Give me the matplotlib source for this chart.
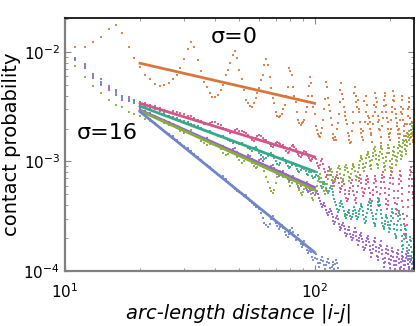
import numpy as np
import matplotlib
matplotlib.use("Agg")
from matplotlib import pyplot as plt
from matplotlib.ticker import LogLocator, NullFormatter

# arc-length distances |i-j|
dist = np.arange(10, 250)

# log10 contact probability
p_sigma0 = [
    -1.93, -1.95, -1.95, -1.91, -1.86, -1.79, -1.75, -1.83, -1.95, -2.05,
    -2.14, -2.21, -2.25, -2.29, -2.31, -2.30, -2.28, -2.25, -2.21, -2.15,
    -2.06, -1.97, -1.91, -1.95, -2.07, -2.17, -2.27, -2.32, -2.37, -2.41,
    -2.41, -2.39, -2.35, -2.30, -2.21, -2.16, -2.10, -2.03, -1.99, -2.05,
    -2.16, -2.25, -2.35, -2.44, -2.47, -2.49, -2.50, -2.47, -2.42, -2.37,
    -2.33, -2.26, -2.21, -2.12, -2.06, -2.12, -2.23, -2.33, -2.42, -2.47,
    -2.55, -2.58, -2.59, -2.58, -2.57, -2.52, -2.48, -2.40, -2.32, -2.15,
    -2.17, -2.21, -2.32, -2.40, -2.46, -2.55, -2.62, -2.65, -2.67, -2.65,
    -2.64, -2.62, -2.55, -2.50, -2.40, -2.31, -2.23, -2.28, -2.40, -2.50,
    -2.57, -2.68, -2.71, -2.75, -2.77, -2.78, -2.74, -2.69, -2.62, -2.52,
    -2.43, -2.27, -2.32, -2.42, -2.48, -2.54, -2.60, -2.67, -2.75, -2.79,
    -2.80, -2.78, -2.80, -2.70, -2.65, -2.57, -2.46, -2.35, -2.28, -2.38,
    -2.43, -2.50, -2.55, -2.58, -2.62, -2.66, -2.74, -2.80, -2.77, -2.83,
    -2.82, -2.72, -2.65, -2.55, -2.37, -2.32, -2.46, -2.40, -2.50, -2.44,
    -2.52, -2.55, -2.64, -2.70, -2.74, -2.78, -2.80, -2.72, -2.45, -2.64,
    -2.40, -2.55, -2.48, -2.58, -2.66, -2.60, -2.70, -2.64, -2.76, -2.74,
    -2.82, -2.66, -2.58, -2.48, -2.55, -2.37, -2.42, -2.50, -2.46, -2.58,
    -2.64, -2.70, -2.62, -2.71, -2.78, -2.83, -2.68, -2.55, -2.60, -2.49,
    -2.44, -2.40, -2.37, -2.55, -2.48, -2.60, -2.64, -2.70, -2.75, -2.78,
    -2.80, -2.74, -2.70, -2.62, -2.55, -2.50, -2.44, -2.36, -2.40, -2.45,
    -2.52, -2.60, -2.57, -2.65, -2.68, -2.71, -2.75, -2.79, -2.70, -2.75,
    -2.62, -2.55, -2.50, -2.44, -2.40, -2.57, -2.52, -2.62, -2.68, -2.72,
    -2.66, -2.77, -2.80, -2.77, -2.74, -2.66, -2.58, -2.52, -2.46, -2.42,
    -2.50, -2.60, -2.66, -2.78, -2.71, -2.64, -2.74, -2.80, -2.82, -2.76,
]

p_pink = [
    -1.98, -2.05, -2.11, -2.20, -2.25, -2.31, -2.35, -2.40, -2.41, -2.44,
    -2.46, -2.47, -2.48, -2.49, -2.51, -2.53, -2.55, -2.54, -2.55, -2.56,
    -2.57, -2.58, -2.58, -2.60, -2.62, -2.63, -2.66, -2.66, -2.65, -2.64,
    -2.64, -2.66, -2.67, -2.69, -2.70, -2.72, -2.74, -2.73, -2.71, -2.70,
    -2.72, -2.72, -2.73, -2.74, -2.76, -2.78, -2.80, -2.81, -2.79, -2.77,
    -2.76, -2.77, -2.79, -2.80, -2.80, -2.82, -2.84, -2.86, -2.87, -2.85,
    -2.83, -2.82, -2.83, -2.84, -2.86, -2.85, -2.87, -2.90, -2.92, -2.91,
    -2.88, -2.86, -2.85, -2.87, -2.89, -2.91, -2.93, -2.95, -2.96, -2.94,
    -2.92, -2.90, -2.91, -2.93, -2.95, -2.97, -2.99, -3.00, -2.98, -2.96,
    -2.97, -2.98, -3.01, -3.04, -3.06, -3.03, -3.00, -2.98, -3.02, -3.07,
    -3.10, -3.14, -3.12, -3.09, -3.05, -3.07, -3.12, -3.17, -3.20, -3.22,
    -3.19, -3.16, -3.14, -3.12, -3.15, -3.20, -3.24, -3.28, -3.25, -3.22,
    -3.18, -3.21, -3.26, -3.30, -3.33, -3.36, -3.34, -3.30, -3.27, -3.24,
    -3.20, -3.17, -3.22, -3.27, -3.31, -3.35, -3.38, -3.33, -3.28, -3.22,
    -3.18, -3.15, -3.12, -3.16, -3.20, -3.24, -3.28, -3.32, -3.29, -3.25,
    -3.21, -3.17, -3.13, -3.16, -3.19, -3.24, -3.29, -3.34, -3.38, -3.41,
    -3.36, -3.31, -3.26, -3.20, -3.16, -3.13, -3.18, -3.23, -3.28, -3.33,
    -3.37, -3.41, -3.36, -3.30, -3.24, -3.19, -3.15, -3.12, -3.10, -3.14,
    -3.19, -3.24, -3.29, -3.34, -3.39, -3.43, -3.40, -3.36, -3.31, -3.25,
    -3.20, -3.15, -3.12, -3.09, -3.06, -3.10, -3.15, -3.21, -3.27, -3.33,
    -3.38, -3.43, -3.48, -3.44, -3.39, -3.33, -3.27, -3.21, -3.16, -3.12,
    -3.09, -3.13, -3.18, -3.24, -3.30, -3.36, -3.42, -3.48, -3.53, -3.57,
    -3.62, -3.67, -3.70, -3.66, -3.58, -3.50, -3.42, -3.35, -3.28, -3.22,
    -3.16, -3.12, -3.08, -3.05, -3.10, -3.16, -3.22, -3.28, -3.33, -3.30,
]

p_teal = [
    -2.00, -2.05, -2.13, -2.22, -2.27, -2.33, -2.36, -2.41, -2.43, -2.45,
    -2.48, -2.50, -2.51, -2.52, -2.54, -2.56, -2.58, -2.59, -2.60, -2.62,
    -2.63, -2.64, -2.66, -2.67, -2.68, -2.69, -2.71, -2.72, -2.72, -2.74,
    -2.75, -2.77, -2.78, -2.77, -2.79, -2.80, -2.81, -2.83, -2.82, -2.83,
    -2.84, -2.83, -2.85, -2.86, -2.88, -2.89, -2.90, -2.88, -2.87, -2.89,
    -2.92, -2.94, -2.96, -2.98, -2.97, -2.95, -2.93, -2.92, -2.94, -2.97,
    -3.00, -3.02, -3.03, -3.01, -2.98, -2.97, -2.99, -3.01, -3.04, -3.06,
    -3.05, -3.03, -3.01, -3.02, -3.04, -3.07, -3.09, -3.10, -3.08, -3.06,
    -3.05, -3.07, -3.09, -3.11, -3.12, -3.10, -3.08, -3.10, -3.13, -3.15,
    -3.14, -3.12, -3.10, -3.13, -3.16, -3.19, -3.22, -3.24, -3.21, -3.19,
    -3.21, -3.24, -3.27, -3.29, -3.27, -3.24, -3.22, -3.25, -3.28, -3.31,
    -3.34, -3.37, -3.40, -3.43, -3.46, -3.44, -3.41, -3.38, -3.36, -3.39,
    -3.42, -3.45, -3.48, -3.50, -3.52, -3.49, -3.46, -3.44, -3.47, -3.50,
    -3.53, -3.51, -3.48, -3.45, -3.42, -3.44, -3.47, -3.50, -3.53, -3.51,
    -3.48, -3.45, -3.43, -3.41, -3.39, -3.42, -3.45, -3.49, -3.53, -3.56,
    -3.54, -3.51, -3.47, -3.43, -3.40, -3.37, -3.35, -3.38, -3.41, -3.44,
    -3.47, -3.50, -3.53, -3.56, -3.59, -3.57, -3.53, -3.48, -3.44, -3.40,
    -3.37, -3.34, -3.36, -3.40, -3.44, -3.48, -3.52, -3.56, -3.59, -3.62,
    -3.60, -3.57, -3.54, -3.51, -3.49, -3.52, -3.55, -3.58, -3.61, -3.64,
    -3.62, -3.58, -3.54, -3.50, -3.46, -3.43, -3.47, -3.52, -3.57, -3.62,
    -3.66, -3.70, -3.68, -3.63, -3.58, -3.54, -3.50, -3.47, -3.45, -3.49,
    -3.53, -3.58, -3.63, -3.68, -3.73, -3.77, -3.80, -3.76, -3.71, -3.66,
    -3.62, -3.59, -3.63, -3.68, -3.74, -3.79, -3.84, -3.89, -3.86, -3.81,
    -3.76, -3.72, -3.69, -3.73, -3.78, -3.83, -3.88, -3.93, -3.97, -3.92,
]

p_purple = [
    -2.00, -2.07, -2.15, -2.24, -2.30, -2.35, -2.39, -2.44, -2.45, -2.47,
    -2.51, -2.54, -2.56, -2.58, -2.61, -2.62, -2.64, -2.66, -2.68, -2.70,
    -2.71, -2.72, -2.74, -2.75, -2.77, -2.78, -2.80, -2.79, -2.81, -2.82,
    -2.84, -2.86, -2.87, -2.86, -2.88, -2.90, -2.91, -2.89, -2.88, -2.91,
    -2.93, -2.95, -2.97, -2.96, -2.94, -2.95, -2.98, -3.00, -3.02, -3.01,
    -2.99, -2.98, -3.00, -3.03, -3.05, -3.07, -3.06, -3.04, -3.03, -3.06,
    -3.09, -3.11, -3.13, -3.12, -3.10, -3.09, -3.11, -3.14, -3.16, -3.18,
    -3.17, -3.15, -3.13, -3.15, -3.18, -3.20, -3.22, -3.24, -3.22, -3.20,
    -3.19, -3.21, -3.24, -3.26, -3.28, -3.27, -3.25, -3.23, -3.26, -3.29,
    -3.31, -3.29, -3.27, -3.30, -3.33, -3.36, -3.39, -3.42, -3.40, -3.38,
    -3.41, -3.44, -3.47, -3.49, -3.46, -3.43, -3.45, -3.48, -3.51, -3.54,
    -3.57, -3.55, -3.52, -3.50, -3.53, -3.57, -3.60, -3.63, -3.61, -3.58,
    -3.56, -3.59, -3.62, -3.65, -3.68, -3.66, -3.63, -3.60, -3.63, -3.66,
    -3.69, -3.72, -3.70, -3.67, -3.64, -3.61, -3.64, -3.68, -3.72, -3.76,
    -3.73, -3.70, -3.67, -3.65, -3.68, -3.71, -3.74, -3.78, -3.81, -3.79,
    -3.76, -3.73, -3.70, -3.68, -3.71, -3.74, -3.77, -3.81, -3.84, -3.87,
    -3.84, -3.80, -3.76, -3.73, -3.70, -3.74, -3.78, -3.82, -3.86, -3.90,
    -3.87, -3.83, -3.79, -3.76, -3.73, -3.77, -3.81, -3.85, -3.89, -3.93,
    -3.96, -3.92, -3.88, -3.84, -3.80, -3.77, -3.81, -3.85, -3.89, -3.93,
    -3.97, -3.94, -3.90, -3.86, -3.82, -3.79, -3.83, -3.87, -3.91, -3.95,
    -3.98, -3.95, -3.91, -3.87, -3.84, -3.81, -3.85, -3.89, -3.93, -3.97,
    -3.99, -3.96, -3.92, -3.89, -3.86, -3.83, -3.87, -3.91, -3.95, -3.98,
    -3.95, -3.91, -3.88, -3.85, -3.82, -3.86, -3.90, -3.94, -3.97, -3.99,
    -3.96, -3.92, -3.89, -3.86, -3.90, -3.94, -3.98, -4.02, -4.05, -4.01,
]

p_green = [
    -2.04, -2.13, -2.23, -2.31, -2.37, -2.44, -2.48, -2.50, -2.55, -2.57,
    -2.58, -2.61, -2.63, -2.60, -2.62, -2.65, -2.67, -2.66, -2.69, -2.72,
    -2.74, -2.73, -2.71, -2.75, -2.78, -2.81, -2.83, -2.85, -2.84, -2.82,
    -2.83, -2.86, -2.89, -2.92, -2.94, -2.93, -2.91, -2.90, -2.93, -2.96,
    -2.99, -3.01, -3.00, -2.97, -2.96, -2.98, -3.01, -3.04, -3.06, -3.05,
    -3.03, -3.02, -3.05, -3.09, -3.14, -3.19, -3.24, -3.27, -3.29, -3.26,
    -3.20, -3.14, -3.10, -3.09, -3.12, -3.14, -3.13, -3.11, -3.15, -3.19,
    -3.22, -3.20, -3.17, -3.15, -3.18, -3.21, -3.23, -3.26, -3.29, -3.31,
    -3.28, -3.25, -3.22, -3.19, -3.21, -3.24, -3.27, -3.30, -3.33, -3.35,
    -3.31, -3.27, -3.22, -3.18, -3.14, -3.11, -3.15, -3.19, -3.23, -3.27,
    -3.30, -3.26, -3.21, -3.16, -3.12, -3.09, -3.07, -3.10, -3.14, -3.18,
    -3.22, -3.18, -3.14, -3.10, -3.06, -3.04, -3.07, -3.11, -3.15, -3.19,
    -3.16, -3.12, -3.08, -3.05, -3.03, -3.06, -3.10, -3.14, -3.18, -3.15,
    -3.11, -3.07, -3.04, -3.02, -3.05, -3.09, -3.13, -3.17, -3.14, -3.10,
    -3.06, -3.03, -3.00, -2.97, -2.95, -2.98, -3.02, -3.06, -3.09, -3.05,
    -3.01, -2.97, -2.94, -2.91, -2.93, -2.96, -3.00, -3.04, -3.07, -3.03,
    -2.99, -2.95, -2.92, -2.89, -2.87, -2.90, -2.94, -2.98, -3.02, -3.06,
    -3.03, -2.99, -2.95, -2.91, -2.88, -2.86, -2.89, -2.93, -2.97, -3.01,
    -3.05, -3.08, -3.04, -3.00, -2.96, -2.92, -2.88, -2.85, -2.88, -2.92,
    -3.00, -3.05, -3.09, -3.06, -3.02, -2.98, -2.94, -2.90, -2.87, -2.91,
    -2.95, -2.99, -3.03, -3.00, -2.96, -2.92, -2.88, -2.85, -2.82, -2.86,
    -2.90, -2.94, -2.98, -2.95, -2.91, -2.87, -2.83, -2.80, -2.77, -2.81,
    -2.85, -2.89, -2.93, -2.90, -2.86, -2.82, -2.78, -2.75, -2.72, -2.76,
    -2.80, -2.84, -2.79, -2.75, -2.71, -2.68, -2.65, -2.69, -2.73, -2.77,
]

# blue series only reaches |i-j| = 127 before dropping off the axis
p_blue = [
    -2.00, -2.06, -2.14, -2.23, -2.28, -2.33, -2.37, -2.42, -2.44, -2.47,
    -2.53, -2.57, -2.61, -2.65, -2.69, -2.72, -2.75, -2.77, -2.80, -2.83,
    -2.86, -2.88, -2.90, -2.93, -2.96, -2.99, -3.01, -3.03, -3.05, -3.08,
    -3.10, -3.12, -3.14, -3.13, -3.16, -3.19, -3.21, -3.23, -3.25, -3.27,
    -3.28, -3.30, -3.32, -3.31, -3.33, -3.36, -3.38, -3.40, -3.42, -3.41,
    -3.43, -3.47, -3.52, -3.56, -3.58, -3.60, -3.57, -3.53, -3.50, -3.53,
    -3.56, -3.59, -3.62, -3.60, -3.58, -3.61, -3.64, -3.67, -3.69, -3.66,
    -3.63, -3.61, -3.64, -3.68, -3.72, -3.70, -3.67, -3.71, -3.75, -3.78,
    -3.76, -3.73, -3.77, -3.81, -3.84, -3.82, -3.79, -3.83, -3.87, -3.90,
    -3.88, -3.85, -3.89, -3.93, -3.96, -3.93, -3.90, -3.87, -3.91, -3.95,
    -3.98, -3.95, -3.92, -3.89, -3.93, -3.97, -4.00, -3.96, -3.92, -3.95,
    -3.98, -3.94, -3.90, -3.93, -3.97, -4.01, -4.05, -4.08,
]

series = [p_sigma0, p_pink, p_teal, p_purple, p_green, p_blue]
colors = ['#d8773c', '#d4558a', '#35a98a', '#9b5cd6', '#84ad3c', '#7285cc']

# power-law fits over 20 <= |i-j| <= 100, probability at both ends
fit_range = [20, 100]
fit_start = [7.9e-3, 3.4e-3, 3.2e-3, 2.95e-3, 2.9e-3, 2.85e-3]
fit_end = [3.4e-3, 1.1e-3, 8.1e-4, 5.8e-4, 5.5e-4, 1.48e-4]

fig = plt.figure(figsize=(4.16, 3.26), dpi=100)
ax = fig.add_axes([0.156, 0.169, 0.839, 0.776])

for vals, c in zip(series, colors):
    x = dist[:len(vals)]
    ax.plot(x, 10 ** np.array(vals), 's', color=c, ms=1.7, mew=0, alpha=0.9)

for c, a, b in zip(colors, fit_start, fit_end):
    ax.plot(fit_range, [a, b], '-', color=c, lw=2)

ax.set_xscale('log')
ax.set_yscale('log')
ax.set_xlim(10, 250)
ax.set_ylim(1e-4, 2.05e-2)

ax.xaxis.set_minor_locator(LogLocator(base=10, subs=np.arange(2, 10)))
ax.xaxis.set_minor_formatter(NullFormatter())
ax.yaxis.set_minor_locator(LogLocator(base=10, subs=np.arange(2, 10)))
ax.yaxis.set_minor_formatter(NullFormatter())
ax.tick_params(which='both', direction='in', top=True, right=True,
               color='#888888', labelsize=11)
ax.tick_params(which='major', length=4)
ax.tick_params(which='minor', length=2.5)
ax.tick_params(axis='x', pad=8)

for side in ['left', 'bottom']:
    ax.spines[side].set_color('#808080')
    ax.spines[side].set_linewidth(1.6)
for side in ['top', 'right']:
    ax.spines[side].set_color('black')
    ax.spines[side].set_linewidth(1.2)

ax.set_xlabel('arc-length distance |i-j|', fontsize=14, style='italic', labelpad=2)
ax.set_ylabel('contact probability', fontsize=14, labelpad=2)

ax.text(0.485, 0.925, 'σ=0', transform=ax.transAxes, fontsize=16,
        ha='center', va='center')
ax.text(0.12, 0.545, 'σ=16', transform=ax.transAxes, fontsize=16,
        ha='center', va='center')

fig.savefig('out.png', dpi=100)
